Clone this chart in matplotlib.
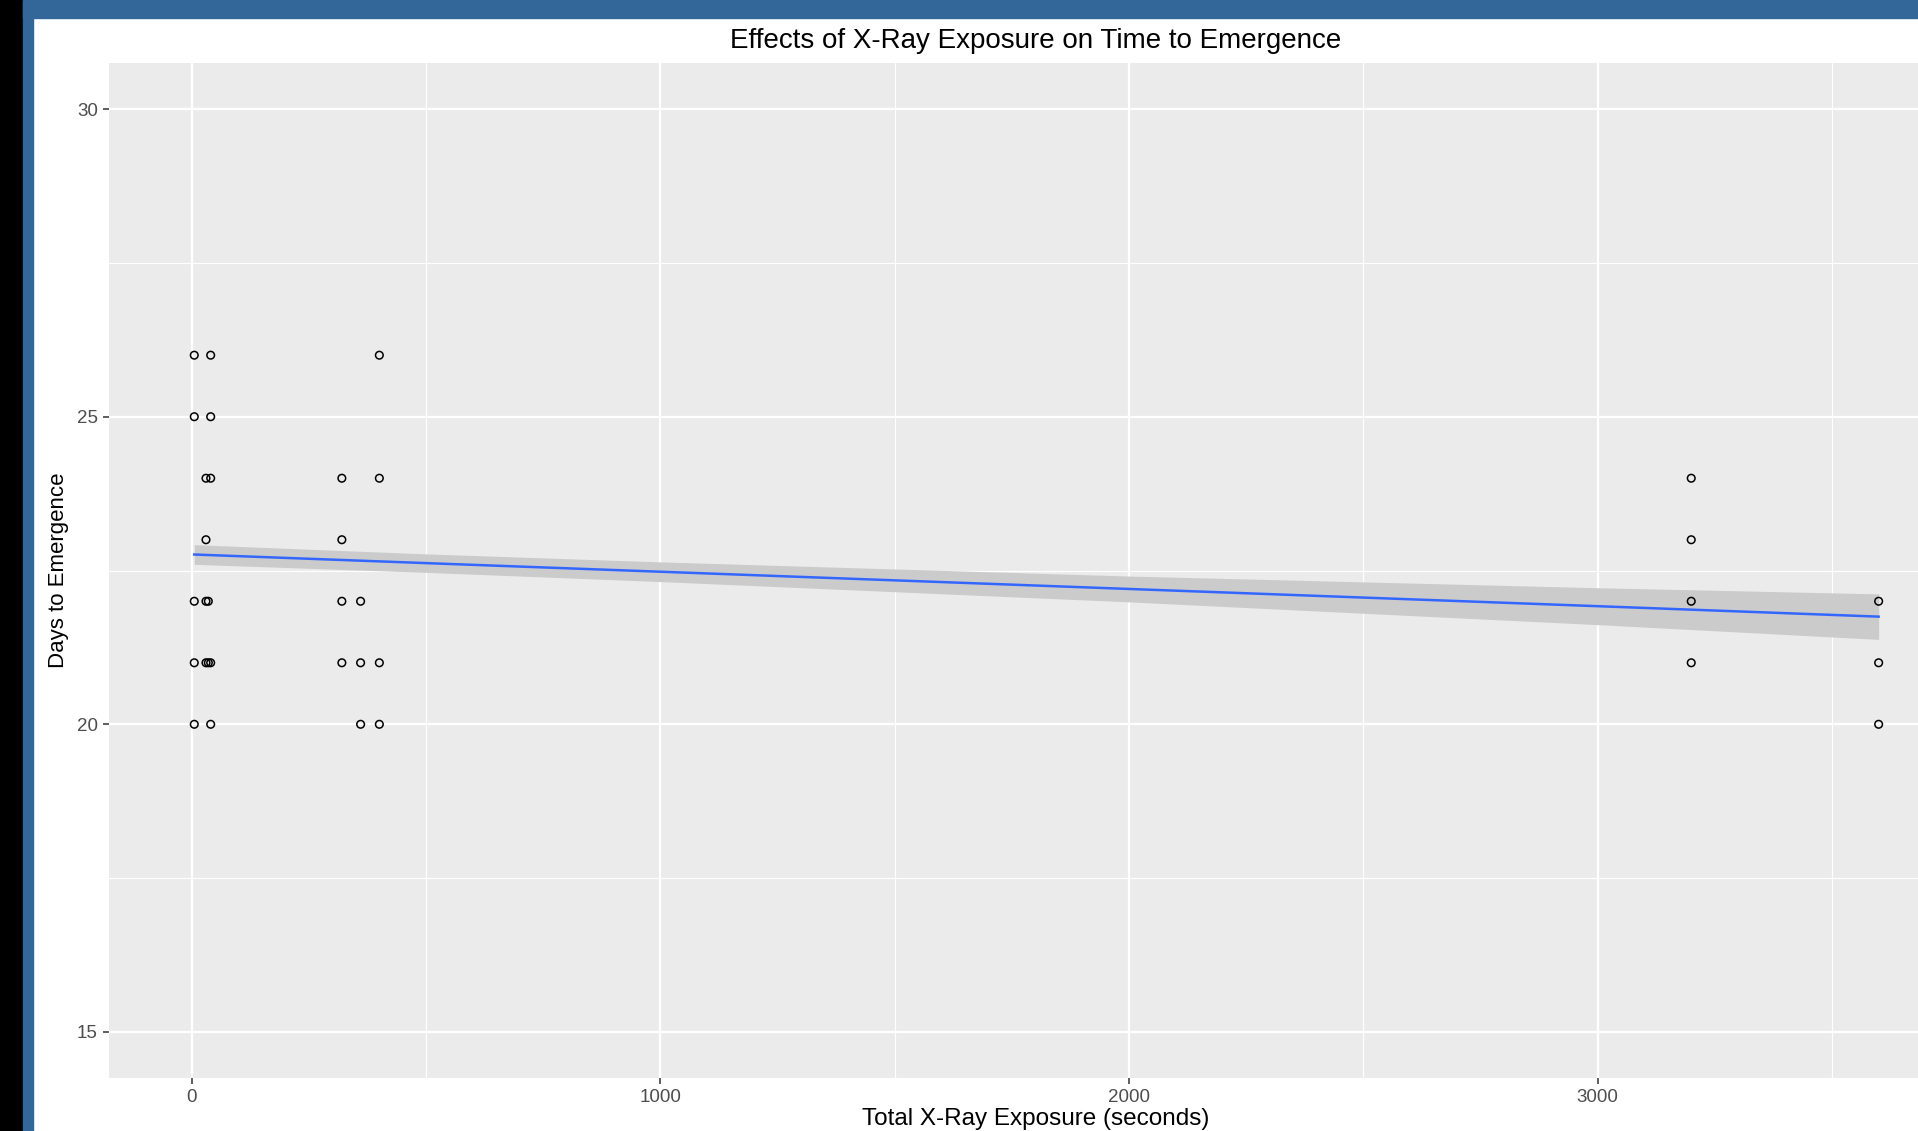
import numpy as np
import matplotlib
matplotlib.use("Agg")
import matplotlib.pyplot as plt
from matplotlib.patches import Rectangle

plt.rcParams["font.family"] = ["Liberation Sans", "DejaVu Sans"]

# exposure (seconds) and days to emergence for each insect
exposure = [5, 5, 5, 5, 5,
            30, 30, 30, 30,
            35, 35,
            40, 40, 40, 40, 40,
            320, 320, 320, 320,
            360, 360, 360,
            400, 400, 400, 400,
            3200, 3200, 3200, 3200,
            3600, 3600, 3600]
days = [26, 25, 22, 21, 20,
        24, 23, 22, 21,
        22, 21,
        26, 25, 24, 21, 20,
        24, 23, 22, 21,
        22, 21, 20,
        26, 24, 21, 20,
        24, 23, 22, 21,
        22, 21, 20]

# linear smoother with its confidence band
fit_x = [5, 500, 1000, 2000, 3000, 3600]
fit_y = [22.76, 22.62, 22.48, 22.20, 21.92, 21.75]
fit_lo = [22.60, 22.47, 22.32, 21.99, 21.62, 21.38]
fit_hi = [22.92, 22.77, 22.64, 22.41, 22.22, 22.12]

W, H = 1918, 1131
fig = plt.figure(figsize=(W / 100, H / 100), dpi=100)
fig.patch.set_facecolor("white")

# screenshot frame: black strip + blue window border
fig.patches.append(Rectangle((0, 0), 23 / W, 1, transform=fig.transFigure,
                             color="black", zorder=0))
fig.patches.append(Rectangle((23 / W, 0), 10 / W, 1, transform=fig.transFigure,
                             color="#336699", zorder=0))
fig.patches.append(Rectangle((23 / W, 1 - 18 / H), 1 - 23 / W, 18 / H,
                             transform=fig.transFigure, color="#336699", zorder=0))

ax = fig.add_axes([109 / W, (H - 1078) / H, (W - 109) / W, (1078 - 63) / H])
ax.set_facecolor("#ebebeb")
for s in ax.spines.values():
    s.set_visible(False)

ax.fill_between(fit_x, fit_lo, fit_hi, color="#cbcbcb", lw=0, zorder=2)
ax.plot(fit_x, fit_y, color="#3366ff", lw=1.8, zorder=3)
ax.scatter(exposure, days, s=30, facecolors="none", edgecolors="black",
           linewidths=1.1, zorder=4)

ax.set_xlim(-177, 3684)
ax.set_ylim(14.25, 30.75)
ax.set_xticks([0, 1000, 2000, 3000])
ax.set_xticks([500, 1500, 2500, 3500], minor=True)
ax.set_yticks([15, 20, 25, 30])
ax.set_yticks([17.5, 22.5, 27.5], minor=True)
ax.grid(which="major", color="white", lw=1.6, zorder=1)
ax.grid(which="minor", color="white", lw=0.8, zorder=1)
ax.set_axisbelow(True)
ax.tick_params(which="major", length=4, width=1.1, color="#333333",
               labelsize=13.5, labelcolor="#4d4d4d", pad=4)
ax.tick_params(which="minor", length=0)

ax.set_xlabel("Total X-Ray Exposure (seconds)", fontsize=17.5, color="black")
ax.xaxis.set_label_coords((1036 - 109) / (W - 109), -(1119.5 - 1078) / (1078 - 63))
ax.xaxis.label.set_va("center")
ax.set_ylabel("Days to Emergence", fontsize=16, color="black", labelpad=6)
fig.text(1036 / W, 1 - 41.5 / H, "Effects of X-Ray Exposure on Time to Emergence",
         ha="center", va="center", fontsize=20, color="black")

fig.savefig("out.png", dpi=100)
